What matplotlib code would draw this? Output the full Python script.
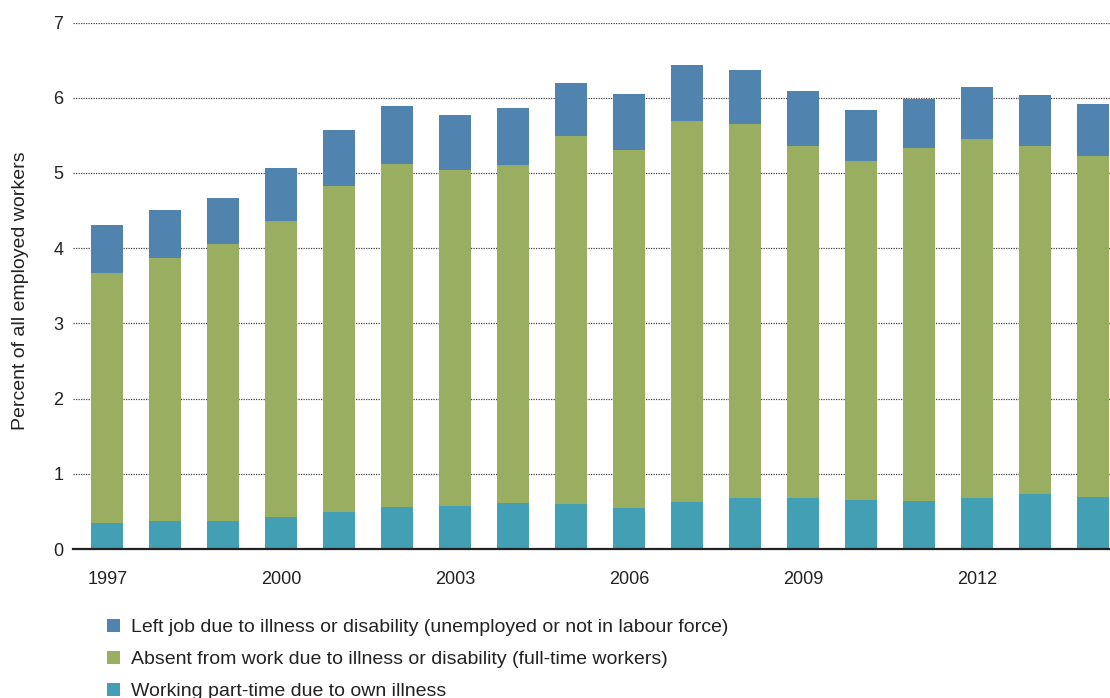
import matplotlib.pyplot as plt
from matplotlib.patches import Patch

plt.rcParams['font.family'] = ['Liberation Sans', 'DejaVu Sans']

years = list(range(1997, 2015))
part_time = [0.35, 0.37, 0.37, 0.43, 0.49, 0.56, 0.57, 0.61, 0.60, 0.55,
             0.63, 0.68, 0.68, 0.65, 0.64, 0.68, 0.73, 0.69]
absent = [3.32, 3.50, 3.69, 3.93, 4.34, 4.56, 4.47, 4.50, 4.89, 4.76,
          5.06, 4.97, 4.68, 4.51, 4.69, 4.77, 4.63, 4.54]
left_job = [0.64, 0.64, 0.61, 0.71, 0.74, 0.77, 0.73, 0.75, 0.71, 0.74,
            0.75, 0.72, 0.73, 0.68, 0.65, 0.69, 0.68, 0.69]

labels = ["Left job due to illness or disability (unemployed or not in labour force)",
          "Absent from work due to illness or disability (full-time workers)",
          "Working part-time due to own illness"]
colors = ["#5183AF", "#9AAE61", "#429FB4"]
tick_years = [1997, 2000, 2003, 2006, 2009, 2012]

fig = plt.figure(figsize=(11.1, 6.98), dpi=100)
ax = fig.add_axes([73 / 1110, 149 / 698, 1037 / 1110, 526.5 / 698])

bottom2 = [p + a for p, a in zip(part_time, absent)]
ax.bar(years, part_time, width=0.55, color=colors[2], zorder=3)
ax.bar(years, absent, width=0.55, bottom=part_time, color=colors[1], zorder=3)
ax.bar(years, left_job, width=0.55, bottom=bottom2, color=colors[0], zorder=3)

ax.set_xlim(1996.41, 2014.29)
ax.set_ylim(0, 7)
ax.set_yticks(range(0, 8))
ax.set_xticks(tick_years)
ax.yaxis.grid(True, linestyle=(0, (1, 1)), color="#444444", linewidth=0.9, zorder=0)
ax.set_axisbelow(True)
for s in ["top", "right", "left"]:
    ax.spines[s].set_visible(False)
ax.spines["bottom"].set_linewidth(1.6)
ax.spines["bottom"].set_color("#222222")
ax.spines["bottom"].set_zorder(4)
ax.tick_params(length=0, labelsize=13, labelcolor="#222222")
ax.tick_params(axis="y", pad=7)
ax.tick_params(axis="x", pad=16)
ax.set_ylabel("Percent of all employed workers", fontsize=14, color="#222222")
ax.yaxis.set_label_coords(-0.0424, 0.49)

handles = [Patch(facecolor=c) for c in colors]
fig.legend(handles, labels, loc="upper left", bbox_to_anchor=(107 / 1110, 1 - 619 / 698),
           frameon=False, fontsize=14, handlelength=0.67, handleheight=0.67,
           handletextpad=0.57, labelspacing=0.74, borderpad=0, borderaxespad=0,
           labelcolor="#222222")

fig.savefig("out.png", dpi=100)
